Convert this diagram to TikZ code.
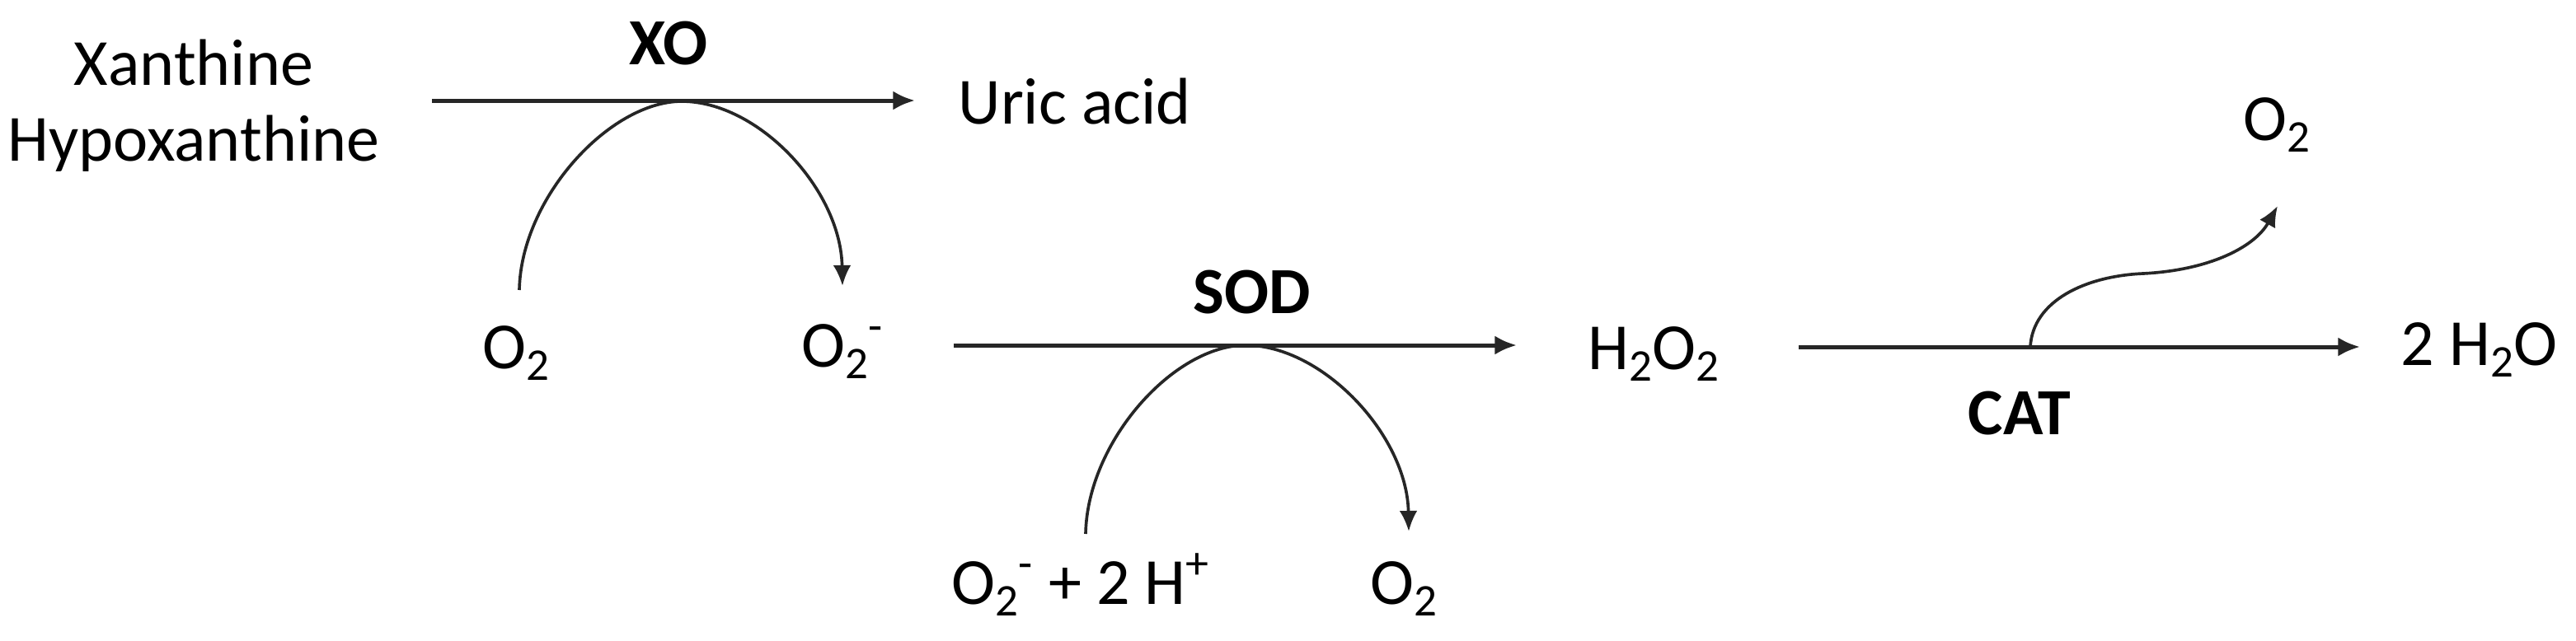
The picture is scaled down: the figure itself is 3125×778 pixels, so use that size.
\documentclass[tikz,border=0pt]{standalone}
\usepackage{fontspec}
\setmainfont{Carlito}
\usetikzlibrary{arrows.meta}
\newcommand\subsc[1]{\raisebox{-4.2pt}{\fontsize{16.5}{18}\selectfont #1}}
\begin{document}
\begin{tikzpicture}[x=0.3pt,y=-0.3pt,
  lbl/.style={inner sep=0pt, font=\fontsize{24}{29}\selectfont},
  enz/.style={inner sep=0pt, font=\fontsize{24}{29}\selectfont\bfseries},
  main/.style={line width=1.5pt, draw=black!85, -{Latex[length=8pt,width=7pt]}},
  cofac/.style={line width=1.1pt, draw=black!85, -{Latex[length=7.5pt,width=6.5pt]}}]
\useasboundingbox (0,0) rectangle (3125,778);
% labels
\node[lbl,anchor=base] (xan) at (235,103) {Xanthine};
\node[lbl,anchor=base] (hyp) at (235,195) {Hypoxanthine};
\node[enz,anchor=base] (xo) at (811,78) {XO};
\node[lbl,anchor=base west] (uric) at (1162,150) {Uric acid};
\node[lbl,anchor=base] (o2a) at (626,447) {O\subsc{2}};
\node[lbl,anchor=base west] (o2m) at (972,445) {O\subsc{2}\textsuperscript{-}};
\node[enz,anchor=base] (sod) at (1519,380) {SOD};
\node[lbl,anchor=base west] (h2o2) at (1926,448) {H\subsc{2}O\subsc{2}};
\node[lbl,anchor=base west] (subs) at (1154,733) {O\subsc{2}\textsuperscript{-} + 2 H\textsuperscript{+}};
\node[lbl,anchor=base] (o2b) at (1703,733) {O\subsc{2}};
\node[enz,anchor=base] (cat) at (2450,527) {CAT};
\node[lbl,anchor=base west] (water) at (2912,443) {2 H\subsc{2}O};
\node[lbl,anchor=base] (o2t) at (2762,170) {O\subsc{2}};
% coordinates
\coordinate (a1s) at (524,122);
\coordinate (a1e) at (1110,122);
\coordinate (c1s) at (630,352);
\coordinate (c1t) at (827,123);
\coordinate (c1e) at (1022,347);
\coordinate (a2s) at (1157,419);
\coordinate (a2e) at (1840,419);
\coordinate (c2s) at (1317,648);
\coordinate (c2t) at (1511,419);
\coordinate (c2e) at (1709,645);
\coordinate (a3s) at (2182,421);
\coordinate (a3e) at (2863,421);
\coordinate (c3s) at (2463,421);
\coordinate (c3e) at (2763,250);
% main reactions
\draw[main] (a1s) -- (a1e);
\draw[main] (a2s) -- (a2e);
\draw[main] (a3s) -- (a3e);
% cofactor arcs
\draw[cofac] (c1s) .. controls (632,240) and (740,123) .. (c1t) .. controls (920,123) and (1020,230) .. (c1e);
\draw[cofac] (c2s) .. controls (1319,536) and (1424,419) .. (c2t) .. controls (1604,419) and (1707,528) .. (c2e);
\draw[cofac] (c3s) .. controls (2466,365) and (2530,335) .. (2600,332) .. controls (2680,328) and (2735,300) .. (c3e);
\end{tikzpicture}
\end{document}
